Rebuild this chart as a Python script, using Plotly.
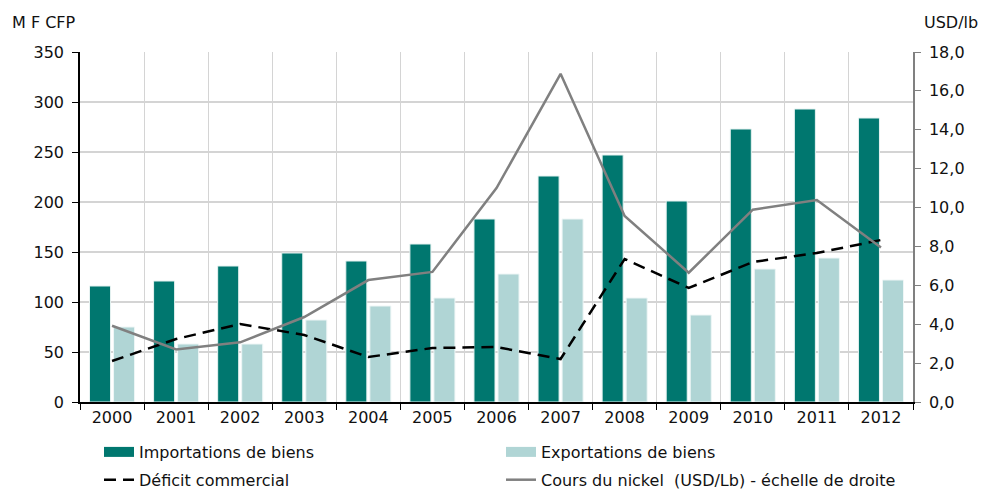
import plotly.graph_objects as go

years = ["2000", "2001", "2002", "2003", "2004", "2005", "2006",
         "2007", "2008", "2009", "2010", "2011", "2012"]
importations = [116, 121, 136, 149, 141, 158, 183, 226, 247, 201, 273, 293, 284]
exportations = [75, 58, 58, 82, 96, 104, 128, 183, 104, 87, 133, 144, 122]
deficit = [41, 63, 78, 67, 45, 54, 55, 43, 143, 114, 140, 149, 162]
nickel = [3.92, 2.70, 3.07, 4.37, 6.27, 6.69, 11.0, 16.88, 9.57, 6.65, 9.89, 10.39, 7.95]

FONT = "DejaVu Sans"
TXT = "#111111"
TEAL = "#00776F"
LIGHT = "#B0D5D5"
GREY = "#808080"
GRID = "#D4D4D4"

W, H = 982, 491
ML, MR, MT, MB = 80, 69, 52, 89

fig = go.Figure()
# legend entries for the bar series, drawn as wide rectangles
fig.add_trace(go.Scatter(x=[None], y=[None], mode="lines", name="Importations de biens",
                         line=dict(color=TEAL, width=13), legend="legend",
                         legendgroup="a", legendrank=1))
fig.add_trace(go.Scatter(x=[None], y=[None], mode="lines", name="Exportations de biens",
                         line=dict(color=LIGHT, width=13), legend="legend2",
                         legendgroup="c", legendrank=1))

fig.add_trace(go.Bar(x=years, y=importations, name="Importations de biens",
                     marker=dict(color=TEAL, line=dict(color="#E6F2F1", width=1)),
                     showlegend=False))
fig.add_trace(go.Bar(x=years, y=exportations, name="Exportations de biens",
                     marker=dict(color=LIGHT, line=dict(color="#EEF6F6", width=1)),
                     showlegend=False))
fig.add_trace(go.Scatter(x=years, y=deficit, name="Déficit commercial", mode="lines",
                         line=dict(color="black", width=2.5, dash="12px,7px"),
                         legend="legend", legendgroup="b", legendrank=2))
fig.add_trace(go.Scatter(x=years, y=nickel, name="Cours du nickel  (USD/Lb) - échelle de droite",
                         mode="lines", line=dict(color=GREY, width=2.5), yaxis="y2",
                         legend="legend2", legendgroup="d", legendrank=2))

legend_common = dict(font=dict(family=FONT, size=16, color=TXT),
                     bgcolor="rgba(0,0,0,0)", traceorder="grouped", tracegroupgap=4,
                     itemwidth=30, yanchor="top", xanchor="left", orientation="v",
                     xref="container", yref="container")

fig.update_layout(
    width=W, height=H,
    margin=dict(l=ML, r=MR, t=MT, b=MB, autoexpand=False),
    paper_bgcolor="white", plot_bgcolor="white",
    font=dict(family=FONT, size=16, color=TXT),
    barmode="group", bargap=0.25, bargroupgap=0.125,
    xaxis=dict(type="category", tickson="boundaries", showgrid=True, gridcolor=GRID,
               gridwidth=1, ticks="outside", ticklen=6, tickcolor="black",
               showline=True, linecolor="black", linewidth=1.5,
               tickfont=dict(family=FONT, size=16, color=TXT)),
    yaxis=dict(range=[0, 350], dtick=50, showgrid=True, gridcolor=GRID, gridwidth=1.5,
               ticks="outside", ticklen=6, tickcolor="black", showline=True,
               linecolor="black", linewidth=1.5, zeroline=False, ticklabelstandoff=5,
               tickfont=dict(family=FONT, size=16, color=TXT)),
    yaxis2=dict(range=[0, 18], dtick=2, overlaying="y", side="right", showgrid=False,
                ticks="outside", ticklen=6, tickcolor=GREY, showline=True,
                linecolor=GREY, linewidth=1.5, zeroline=False, tickformat=".1f",
                ticklabelstandoff=5, tickfont=dict(family=FONT, size=16, color=TXT)),
    separators=", ",
    legend=dict(x=99 / W, y=1 - 435 / H, **legend_common),
    legend2=dict(x=501 / W, y=1 - 435 / H, **legend_common),
    showlegend=True,
)

# unit labels above each value axis (pixel positions converted to paper coords)
def to_paper(px, py):
    return (px - ML) / (W - ML - MR), (H - MB - py) / (H - MT - MB)

x1, y1 = to_paper(10, 22)
x2, y2 = to_paper(980, 22)
fig.add_annotation(text="M F CFP", x=x1, y=y1, xref="paper", yref="paper",
                   showarrow=False, xanchor="left", yanchor="middle",
                   font=dict(family=FONT, size=16, color=TXT))
fig.add_annotation(text="USD/lb", x=x2, y=y2, xref="paper", yref="paper",
                   showarrow=False, xanchor="right", yanchor="middle",
                   font=dict(family=FONT, size=16, color=TXT))

fig.write_html("out.html")
